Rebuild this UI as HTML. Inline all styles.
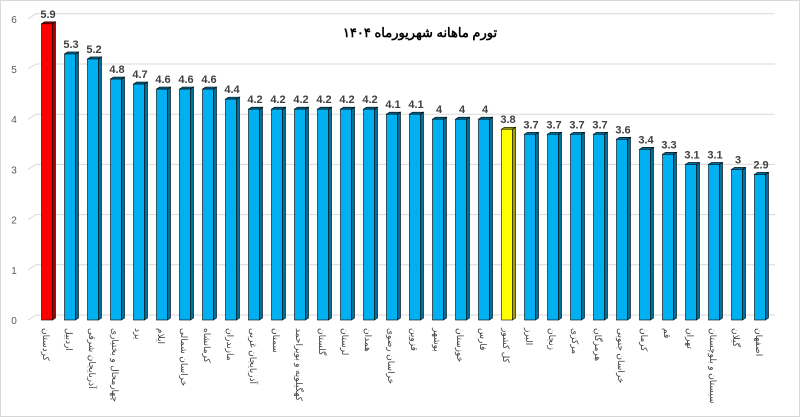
<!DOCTYPE html>
<html><head><meta charset="utf-8"><style>
body{margin:0;background:#fff;}
svg{display:block;font-family:"Liberation Sans","Noto Sans CJK SC",sans-serif;}
</style></head><body>
<svg id="c" width="800" height="417">
<rect x="0.5" y="0.5" width="799" height="416" fill="#fff" stroke="#d9d9d9"/>
<text x="420" y="37" text-anchor="middle" font-size="13" font-weight="bold" fill="#000">تورم ماهانه شهریورماه ۱۴۰۴</text>
<g id="grid"></g><g id="bars"></g><g id="labels"></g>
</svg>
<script>
const categories=["کردستان","اردبیل","آذربایجان شرقی","چهارمحال و بختیاری","یزد","ایلام","خراسان شمالی","کرمانشاه","مازندران","آذربایجان غربی","سمنان","کهگیلویه و بویراحمد","گلستان","لرستان","همدان","خراسان رضوی","قزوین","بوشهر","خوزستان","فارس","کل کشور","البرز","زنجان","مرکزی","هرمزگان","خراسان جنوبی","کرمان","قم","تهران","سیستان و بلوچستان","گیلان","اصفهان"];
const values=[5.9,5.3,5.2,4.8,4.7,4.6,4.6,4.6,4.4,4.2,4.2,4.2,4.2,4.2,4.2,4.1,4.1,4,4,4,3.8,3.7,3.7,3.7,3.7,3.6,3.4,3.3,3.1,3.1,3,2.9];
const yTicks=[0,1,2,3,4,5,6];
const NS="http://www.w3.org/2000/svg";
const y=v=>320-v*50.2;
const x=i=>47+i*23;
function mk(t,a,p){const e=document.createElementNS(NS,t);for(const k in a)e.setAttribute(k,a[k]);p.appendChild(e);return e;}
const grid=document.getElementById('grid'),bars=document.getElementById('bars'),labels=document.getElementById('labels');
yTicks.forEach(t=>{
  const l=mk('path',{d:`M28 ${y(t)} L36 ${y(t)-5} L775 ${y(t)-5}`,stroke:'#d9d9d9',fill:'none'},grid);
  
  
  const tx=mk('text',{x:14,y:y(t)+4,'text-anchor':'middle','font-size':10,fill:'#595959'},grid);
  tx.textContent=t;
  
  
});
values.forEach((v,i)=>{
  const cx=x(i),w=11,d=3;
  const col=i===0?'#ff0000':(categories[i]==='کل کشور'?'#ffff00':'#00b0f0');
  const side=i===0?'#a00000':(categories[i]==='کل کشور'?'#a0a000':'#006f99');
  const g=mk('g',{},bars);
  
  
  const x0=cx-w/2,yt=y(v),yb=y(0);
  mk('polygon',{points:`${x0+w},${yt} ${x0+w+d},${yt-2} ${x0+w+d},${yb-2} ${x0+w},${yb}`,fill:side,stroke:'#000','stroke-width':0.6},g);
  mk('polygon',{points:`${x0},${yt} ${x0+d},${yt-2} ${x0+w+d},${yt-2} ${x0+w},${yt}`,fill:side,stroke:'#000','stroke-width':0.6},g);
  mk('rect',{x:x0,y:yt,width:w,height:yb-yt,fill:col,stroke:'#000','stroke-width':0.6},g);
  const vt=mk('text',{x:cx+1,y:yt-6,'text-anchor':'middle','font-size':11,'font-weight':'bold',fill:'#404040'},bars);
  vt.textContent=v;
  
  
  const ct=mk('text',{transform:`translate(${cx-4},328) rotate(90)`,'font-size':9,fill:'#404040','text-anchor':'start'},labels);
  ct.textContent=categories[i];
  
  
});
</script>
</body></html>
